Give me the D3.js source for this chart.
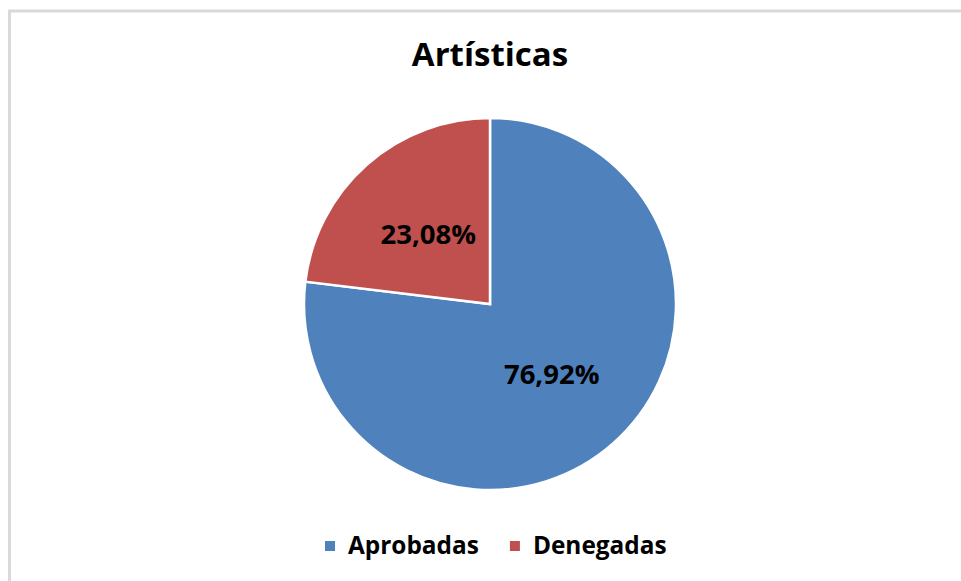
<!DOCTYPE html>
<html>
<head>
<meta charset="utf-8">
<script src="https://cdn.jsdelivr.net/npm/d3@7"></script>
<style>
html,body{margin:0;padding:0;background:#fff;}
svg{display:block;}
</style>
</head>
<body>
<svg id="chart" width="961" height="581"></svg>
<script>
const title = "Artísticas";
const categories = ["Aprobadas", "Denegadas"];
const values = [76.92, 23.08];
const labels = ["76,92%", "23,08%"];
const colors = ["#4F81BD", "#C0504D"];

const svg = d3.select("#chart");
const font = "'Open Sans', 'DejaVu Sans', sans-serif";

// chart border (only top/left visible in frame)
svg.append("rect")
  .attr("x", 9.5).attr("y", 11)
  .attr("width", 1000).attr("height", 700)
  .attr("fill", "#fff")
  .attr("stroke", "#d9d9d9")
  .attr("stroke-width", 3);

svg.append("text")
  .attr("x", 490).attr("y", 66)
  .attr("text-anchor", "middle")
  .attr("font-family", font)
  .attr("font-weight", "bold")
  .attr("font-size", 33)
  .attr("fill", "#000")
  .text(title);

const cx = 490, cy = 304, r = 186;
const data = categories.map((c, i) => ({cat: c, value: values[i], label: labels[i], color: colors[i]}));

const pie = d3.pie().sort(null).value(d => d.value);
const arc = d3.arc().innerRadius(0).outerRadius(r);
const arcs = pie(data);

const g = svg.append("g").attr("transform", `translate(${cx},${cy})`);
g.selectAll("path.slice").data(arcs).join("path")
  .attr("class", "slice")
  .attr("d", arc)
  .attr("fill", d => d.data.color)
  .attr("stroke", "#fff")
  .attr("stroke-width", 2.5)
  .attr("stroke-linejoin", "miter");

g.selectAll("text.lbl").data(arcs).join("text")
  .attr("class", "lbl")
  .attr("transform", d => `translate(${arc.centroid(d)})`)
  .attr("text-anchor", "middle")
  .attr("dy", "0.36em")
  .attr("font-family", font)
  .attr("font-weight", "bold")
  .attr("font-size", 27.5)
  .attr("fill", "#000")
  .text(d => d.data.label);

// legend
const leg = svg.append("g");
let lx = 325;
const ly = 554;
data.forEach((d, i) => {
  leg.append("rect")
    .attr("x", lx).attr("y", 541)
    .attr("width", 10).attr("height", 10)
    .attr("fill", d.color);
  const t = leg.append("text")
    .attr("x", lx + 23).attr("y", ly)
    .attr("font-family", font)
    .attr("font-weight", "bold")
    .attr("font-size", 24.4)
    .attr("fill", "#000")
    .text(d.cat);
  const w = t.node().getComputedTextLength();
  lx = lx + 23 + w + 31;
});
</script>
</body>
</html>
